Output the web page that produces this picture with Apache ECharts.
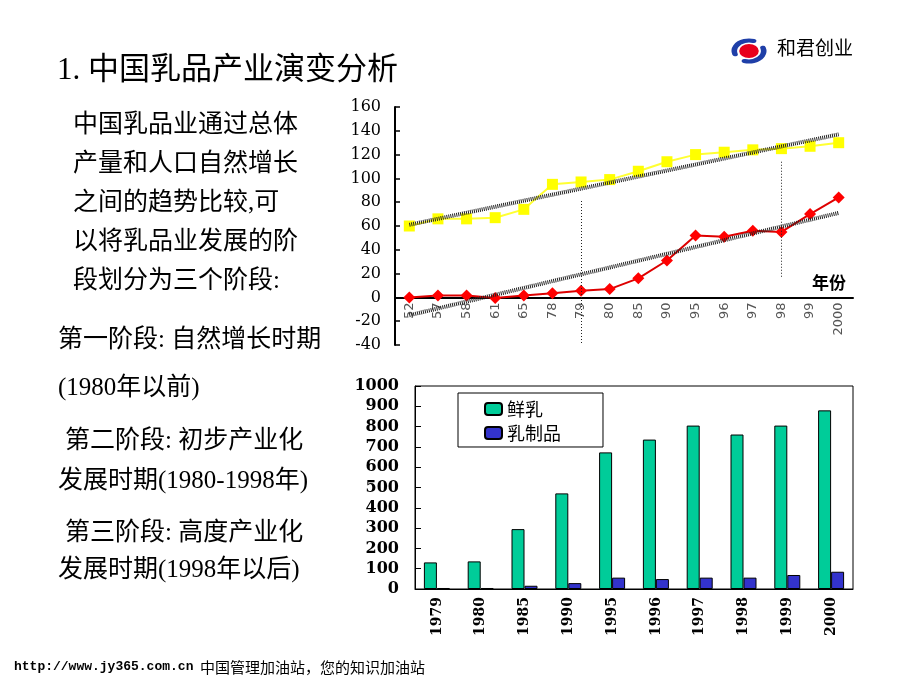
<!DOCTYPE html>
<html>
<head>
<meta charset="utf-8">
<script src="https://cdn.jsdelivr.net/npm/echarts@6/dist/echarts.min.js"></script>
<style>
html,body{margin:0;padding:0;background:#fff;}
#chart{width:920px;height:690px;}
</style>
</head>
<body>
<div id="chart"></div>
<script>
// ---- Top chart data ----
const topCategories = ['52','57','58','61','65','78','79','80','85','90','95','96','97','98','99','2000'];
const populationIndex = [60,66,66,67,74,95,97,99,106,114,120,122,124,125,127,130];
const dairyOutputIndex = [0,1.5,1.5,-0.5,1.5,3.5,5.5,7,16,31,52,51,56,55,70,84];
const populationTrend = [61,137];      // trend values at first and last category
const dairyTrend = [-15,71];
const topYTicks = {min:-40,max:160,interval:20};
const stageMarks = [{cat:'79',from:81,to:-40},{cat:'98',from:114,to:17}];

// ---- Bottom chart data ----
const bottomCategories = ['1979','1980','1985','1990','1995','1996','1997','1998','1999','2000'];
const freshMilk = [131,136,295,471,673,736,805,761,805,880];
const dairyProducts = [5,5,16,29,56,49,56,56,69,85];
const bottomYTicks = {min:0,max:1000,interval:100};

// ---- Slide texts ----
const titleText = '1. 中国乳品产业演变分析';
const introLines = ['中国乳品业通过总体','产量和人口自然增长','之间的趋势比较,可','以将乳品业发展的阶','段划分为三个阶段:'];
const stageLines = [
  ['第一阶段: 自然增长时期',58,340],
  ['(1980年以前)',58,388],
  ['第二阶段: 初步产业化',65,441],
  ['发展时期(1980-1998年)',58,481],
  ['第三阶段: 高度产业化',65,533],
  ['发展时期(1998年以后)',58,570]
];

const chart = echarts.init(document.getElementById('chart'));
const FONT = 'Liberation Serif, "Noto Sans CJK SC", serif';

// top grid geometry (for placing the x axis on the zero line)
const topGrid = {left:395, right:67, top:107, bottom:345};
const topPlotH = (690 - topGrid.bottom) - topGrid.top;
const zeroOffset = -topPlotH * (0 - topYTicks.min) / (topYTicks.max - topYTicks.min);

const graphics = [];
graphics.push({type:'text', style:{text:titleText, x:57, y:71, fill:'#000', fontSize:31, fontFamily:FONT, verticalAlign:'middle'}});
introLines.forEach((t,i)=>{
  graphics.push({type:'text', style:{text:t, x:73, y:125+i*39, fill:'#000', fontSize:25, fontFamily:FONT, verticalAlign:'middle'}});
});
stageLines.forEach(s=>{
  graphics.push({type:'text', style:{text:s[0], x:s[1], y:s[2], fill:'#000', fontSize:25, fontFamily:FONT, verticalAlign:'middle'}});
});
// logo
graphics.push({type:'group', x:749, y:51, scaleX:1.4, scaleY:1, children:[
  {type:'arc', shape:{cx:0, cy:0, r:10.5, startAngle:Math.PI*0.9, endAngle:Math.PI*1.6}, style:{stroke:'#1f3fa8', lineWidth:4, fill:null, lineCap:'round'}},
  {type:'arc', shape:{cx:0, cy:0, r:10.5, startAngle:-Math.PI*0.1, endAngle:Math.PI*0.6}, style:{stroke:'#1f3fa8', lineWidth:4, fill:null, lineCap:'round'}},
  {type:'circle', shape:{cx:0, cy:0, r:7}, style:{fill:'#e8001c'}}
]});
graphics.push({type:'text', style:{text:'和君创业', x:777, y:48, fill:'#000', fontSize:19, fontFamily:'"Noto Sans CJK SC"', verticalAlign:'middle'}});
graphics.push({type:'text', style:{text:'年份', x:812, y:283, fill:'#000', fontSize:17, fontWeight:'bold', fontFamily:'"Noto Sans CJK SC"', verticalAlign:'middle'}});
// footer
graphics.push({type:'text', style:{text:'http://www.jy365.com.cn', x:14, y:667, fill:'#000', fontSize:13, fontWeight:'bold', fontFamily:'Liberation Mono, monospace', verticalAlign:'middle'}});
graphics.push({type:'text', style:{text:'中国管理加油站，您的知识加油站', x:200, y:667, fill:'#000', fontSize:15, fontFamily:'"Noto Sans CJK SC"', verticalAlign:'middle'}});

const option = {
  backgroundColor:'#fff',
  animation:false,
  graphic:graphics,
  legend:{
    data:['鲜乳','乳制品'],
    orient:'vertical',
    left:458, top:393,
    itemWidth:17, itemHeight:12, itemGap:6,
    padding:[7,42,5,26],
    borderColor:'#000', borderWidth:1, borderRadius:0,
    backgroundColor:'#fff',
    textStyle:{fontSize:18, color:'#000', fontFamily:'"Noto Sans CJK SC"'}
  },
  grid:[
    {left:topGrid.left, right:topGrid.right, top:topGrid.top, bottom:topGrid.bottom, show:false},
    {left:415, right:67, top:386, bottom:101, show:true, borderColor:'#000', borderWidth:1, backgroundColor:'transparent'}
  ],
  xAxis:[
    {type:'category', gridIndex:0, data:topCategories, boundaryGap:true, position:'bottom', offset:zeroOffset,
     axisLine:{onZero:false, lineStyle:{color:'#000', width:2}},
     axisTick:{inside:true, length:5, lineStyle:{color:'#000', width:1.5}},
     axisLabel:{rotate:90, interval:0, fontSize:13, color:'#555', fontFamily:'DejaVu Sans', margin:5},
     splitLine:{show:false}},
    {type:'category', gridIndex:1, data:bottomCategories, boundaryGap:true,
     axisLine:{lineStyle:{color:'#000', width:1}},
     axisTick:{inside:true, length:4, lineStyle:{color:'#000'}},
     axisLabel:{rotate:90, interval:0, fontSize:14, fontWeight:'bold', color:'#000', fontFamily:'DejaVu Serif', margin:8},
     splitLine:{show:false}}
  ],
  yAxis:[
    {type:'value', gridIndex:0, min:topYTicks.min, max:topYTicks.max, interval:topYTicks.interval,
     axisLine:{show:true, lineStyle:{color:'#000', width:2}},
     axisTick:{show:true, inside:true, length:5, lineStyle:{color:'#000', width:1.5}},
     axisLabel:{fontSize:16, color:'#000', fontFamily:'DejaVu Serif', margin:14, formatter:v=>String(v)},
     splitLine:{show:false}},
    {type:'value', gridIndex:1, min:bottomYTicks.min, max:bottomYTicks.max, interval:bottomYTicks.interval,
     axisLine:{show:true, lineStyle:{color:'#000', width:1}},
     axisTick:{show:true, inside:true, length:6, lineStyle:{color:'#000'}},
     axisLabel:{fontSize:16, fontWeight:'bold', color:'#000', fontFamily:'DejaVu Serif', margin:16, formatter:v=>String(v)},
     splitLine:{show:false}}
  ],
  series:[
    {name:'人口', type:'line', xAxisIndex:0, yAxisIndex:0, data:populationIndex,
     symbol:'rect', symbolSize:11, lineStyle:{color:'#ffff33', width:2}, itemStyle:{color:'#ffff00'}, z:3},
    {name:'乳品产量', type:'line', xAxisIndex:0, yAxisIndex:0, data:dairyOutputIndex,
     symbol:'diamond', symbolSize:12, lineStyle:{color:'#dd0000', width:2}, itemStyle:{color:'#ff0000'}, z:3,
     markLine:{silent:true, symbol:'none', label:{show:false},
       lineStyle:{color:'#222', type:[1,2], width:1},
       data:stageMarks.map(m=>[{coord:[m.cat,m.from]},{coord:[m.cat,m.to]}])}},
    {name:'人口趋势', type:'line', xAxisIndex:0, yAxisIndex:0,
     data:[[0,populationTrend[0]],[topCategories.length-1,populationTrend[1]]],
     symbol:'none', lineStyle:{color:'#222', width:4, type:[1,1]}, z:4},
    {name:'产量趋势', type:'line', xAxisIndex:0, yAxisIndex:0,
     data:[[0,dairyTrend[0]],[topCategories.length-1,dairyTrend[1]]],
     symbol:'none', lineStyle:{color:'#222', width:4, type:[1,1]}, z:4},
    {name:'鲜乳', type:'bar', xAxisIndex:1, yAxisIndex:1, data:freshMilk,
     barWidth:13, barGap:'0%', itemStyle:{color:'#00cc99', borderColor:'#000', borderWidth:1}},
    {name:'乳制品', type:'bar', xAxisIndex:1, yAxisIndex:1, data:dairyProducts,
     barWidth:13, barGap:'0%', itemStyle:{color:'#3333cc', borderColor:'#000', borderWidth:1}}
  ]
};
chart.setOption(option);
</script>
</body>
</html>
